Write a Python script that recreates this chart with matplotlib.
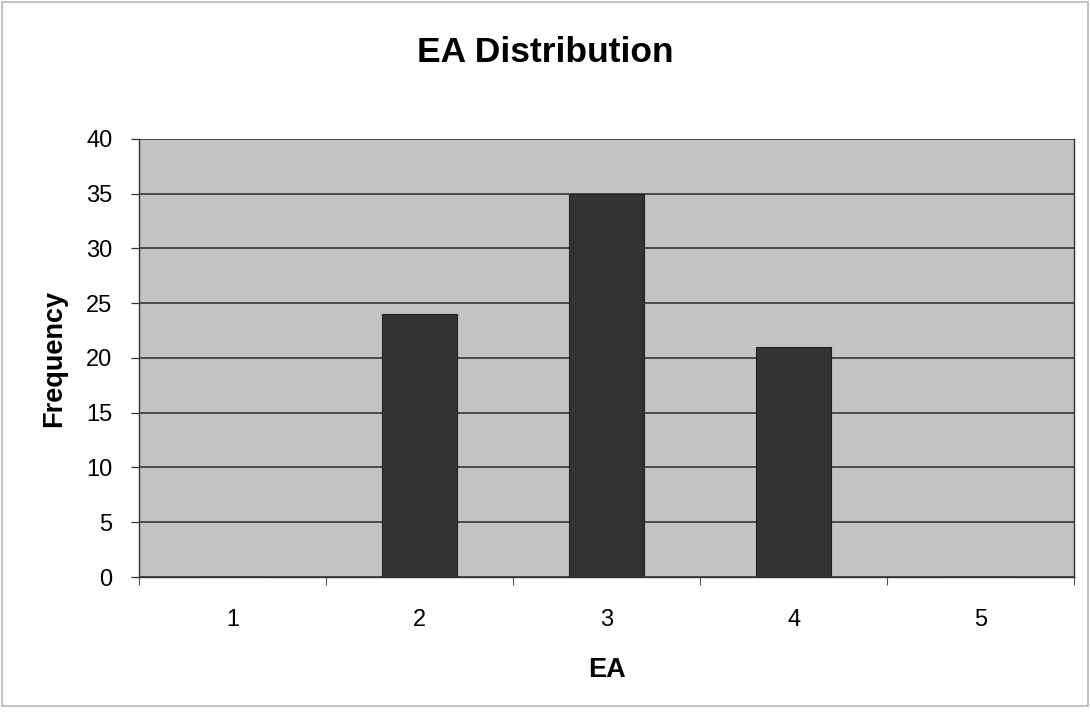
import matplotlib
matplotlib.use("Agg")
import matplotlib.pyplot as plt
from matplotlib.patches import Rectangle
from matplotlib.ticker import FixedLocator

categories = ["1", "2", "3", "4", "5"]
frequency = [0, 24, 35, 21, 0]
y_ticks = [0, 5, 10, 15, 20, 25, 30, 35, 40]

plt.rcParams['font.family'] = ['Liberation Sans', 'DejaVu Sans']

fig = plt.figure(figsize=(10.9, 7.12), dpi=100)
fig.patch.set_facecolor('white')
fig.patches.append(Rectangle((0.002, 0.008), 0.996, 0.989, transform=fig.transFigure,
                             fill=False, edgecolor='#b8b8b8', linewidth=1.2))

ax = fig.add_axes([0.1275, 0.1896, 0.858, 0.6152])
ax.set_facecolor('#c3c3c3')

x = list(range(len(categories)))
ax.bar(x, frequency, width=0.4, color='#333333', edgecolor='#222222', linewidth=0.8, zorder=3)

ax.set_xlim(-0.5, len(categories) - 0.5)
ax.set_ylim(0, 40)
ax.set_yticks(y_ticks)
ax.yaxis.grid(True, color='#2a2a2a', linewidth=1.1, zorder=1)
ax.set_axisbelow(True)

# category boundaries as major ticks, labels at centres
ax.xaxis.set_major_locator(FixedLocator([i - 0.5 for i in range(len(categories) + 1)]))
ax.xaxis.set_minor_locator(FixedLocator(x))
ax.set_xticklabels([], minor=False)
ax.set_xticklabels(categories, minor=True)
ax.tick_params(axis='x', which='major', length=6, width=0.8, color='#555555', direction='out')
ax.tick_params(axis='x', which='minor', length=0, pad=23, labelsize=17)
ax.tick_params(axis='y', length=6, width=0.9, color='#333333', labelsize=17, pad=13)

for side in ['left', 'bottom', 'right', 'top']:
    ax.spines[side].set_color('#333333')
    ax.spines[side].set_linewidth(1.0)
ax.spines['top'].set_visible(False)

ax.set_xlabel('EA', fontsize=19.5, fontweight='bold', labelpad=19)
ax.set_ylabel('Frequency', fontsize=19.5, fontweight='bold', labelpad=14)
fig.text(0.5, 0.926, 'EA Distribution', ha='center', va='center', fontsize=25.5, fontweight='bold')

fig.savefig('out.png', dpi=100, facecolor='white')
